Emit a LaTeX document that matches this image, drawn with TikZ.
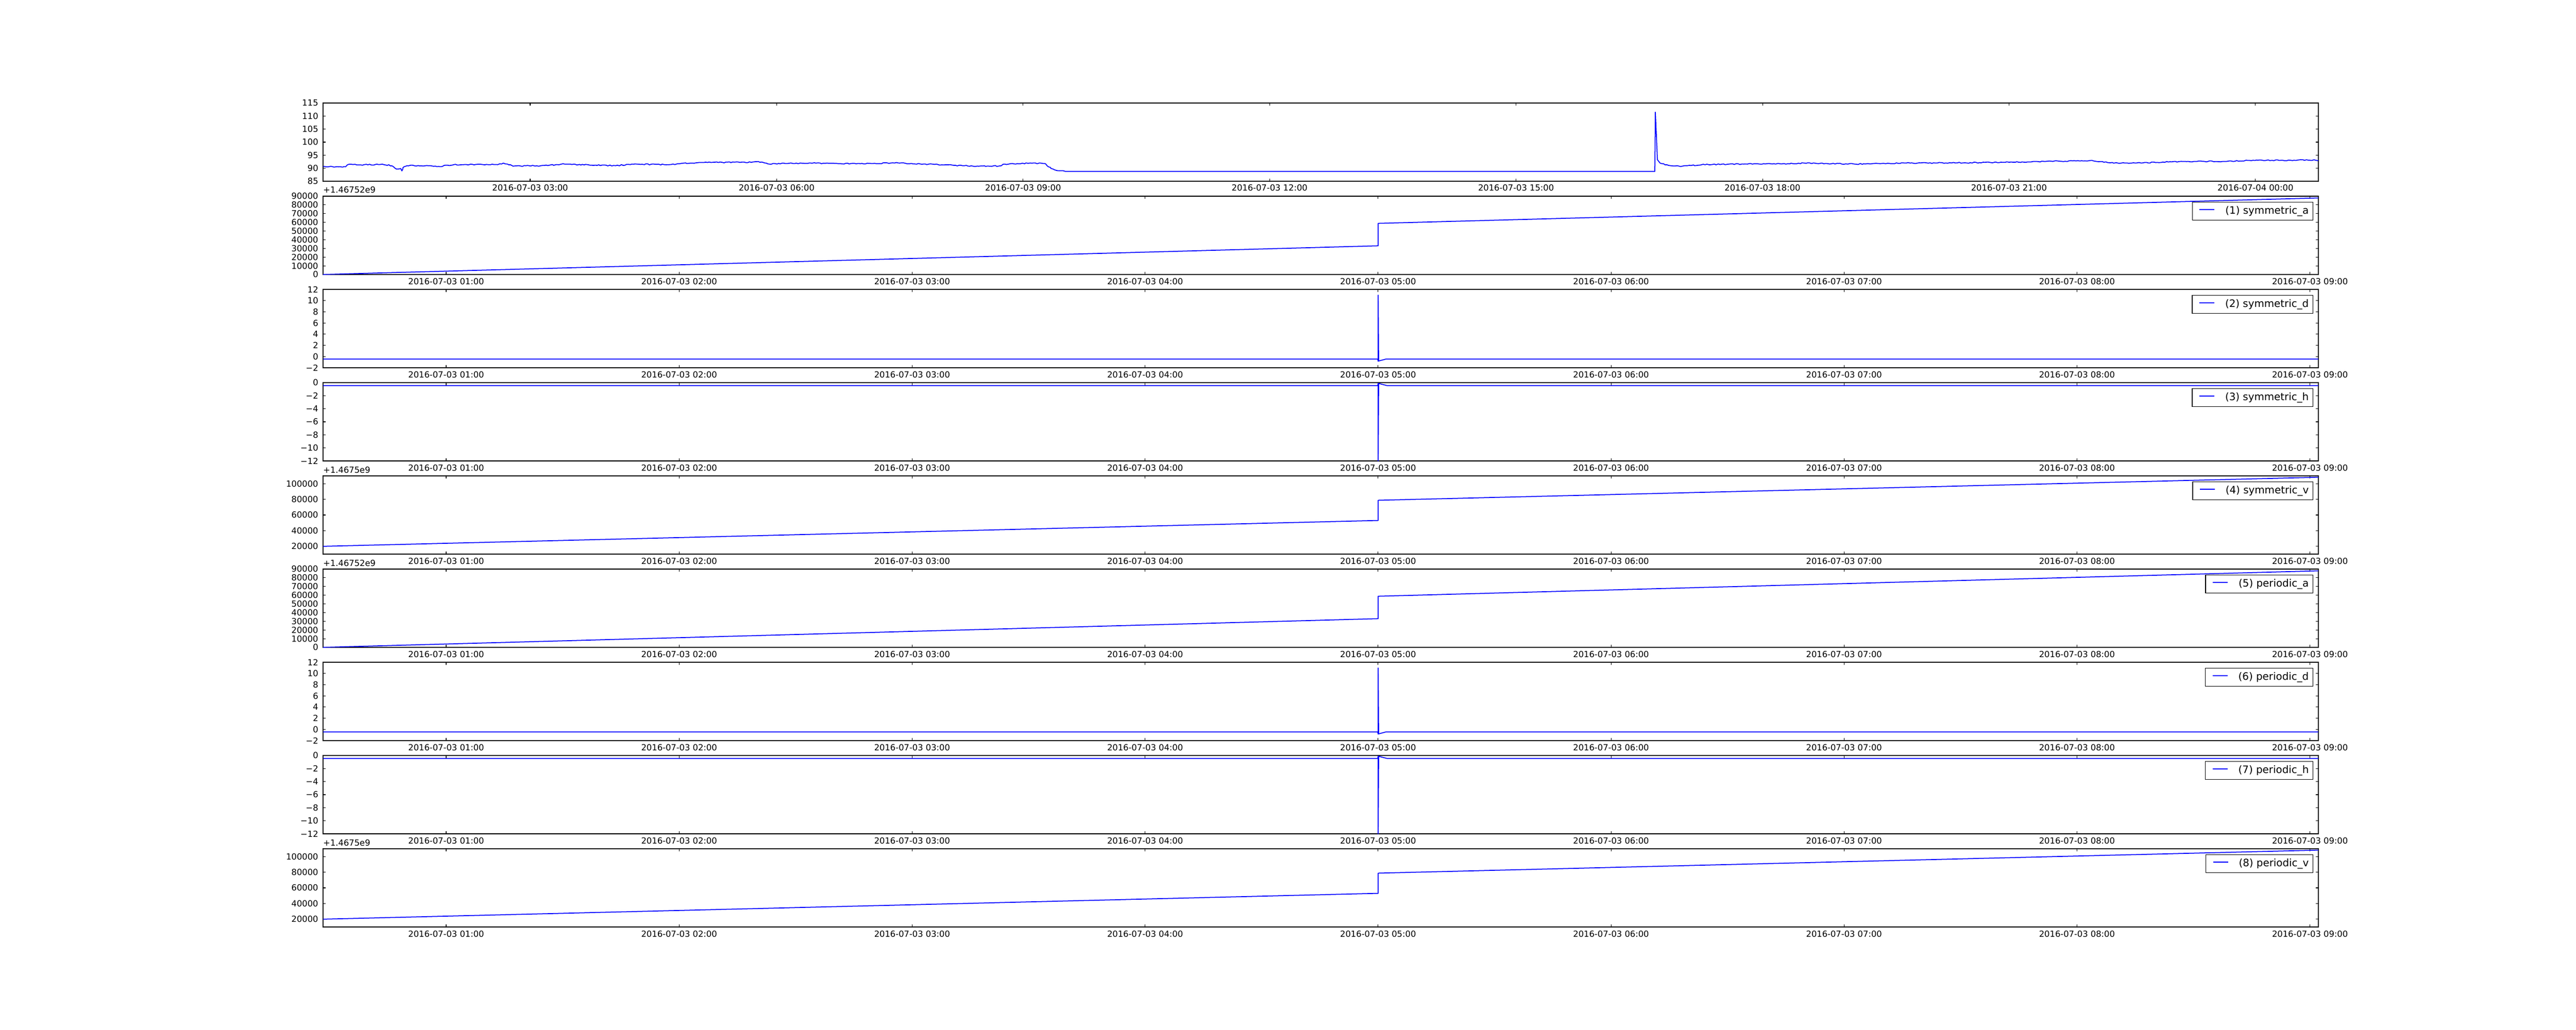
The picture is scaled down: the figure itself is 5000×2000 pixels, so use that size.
\documentclass[tikz,border=0pt]{standalone}
\usepackage{fontspec}
\setmainfont{DejaVu Sans}
\usetikzlibrary{calc, decorations.pathmorphing}
\definecolor{trace}{HTML}{0000FF}
\newcommand{\tickfont}{\fontsize{9.3}{11}\selectfont}
\newcommand{\legendfont}{\fontsize{11.3}{13}\selectfont}

\begin{document}
\begin{tikzpicture}[x=0.02cm, y=-0.02cm,
    frame/.style={black, line width=1pt},
    tickline/.style={black, line width=0.6pt},
    series/.style={trace, line width=1pt, line join=round},
    ticklabel/.style={font=\tickfont, inner sep=0pt},
    legendbox/.style={draw=black, line width=0.8pt, fill=white, font=\legendfont,
        inner xsep=0pt, inner ysep=0pt, minimum height=0.7cm, anchor=north east}]

% Canvas
\fill[white] (0,0) rectangle (5000,2000);
\useasboundingbox (0,0) rectangle (5000,2000);

% --- MACRO: Y TICK ---
% #1: y position (px)
% #2: label
% #3: node name
\newcommand{\yTick}[3]{
    \draw[tickline] (627,#1) -- ++(5,0);
    \draw[tickline] (4500,#1) -- ++(-5,0);
    \node[ticklabel, anchor=east] (#3) at (618,#1) {#2};
}

% --- MACRO: LEGEND ---
% #1: top edge of the panel
% #2: label text
% #3: node name
\newcommand{\drawLegend}[3]{
    \node[legendbox] (#3) at (4490,#1+11)
        {\hspace*{0.28cm}\textcolor{trace}{\rule[4.3pt]{0.58cm}{1pt}}\hspace*{0.42cm}#2\hspace*{0.16cm}};
}

% --- MACRO: DRAW LOWER PANEL ---
% #1: top edge (px)
% #2: kind (1=a, 2=d, 3=h, 4=v)
% #3: legend text
% #4: name prefix
\newcommand{\drawPanel}[4]{
    \pgfmathsetmacro{\pbot}{#1+152}
    % Frame
    \draw[frame] (627,#1) rectangle (4500,\pbot);

    % X ticks
    \foreach \h in {1,...,9} {
        \pgfmathsetmacro{\tx}{866+(\h-1)*452.2}
        \draw[tickline] (\tx,#1) -- ++(0,5);
        \draw[tickline] (\tx,\pbot) -- ++(0,-5);
        \node[ticklabel, anchor=base] (#4x\h) at (\tx,\pbot+19) {2016-07-03 0\h:00};
    }

    % --- a: ramp with step ---
    \ifnum #2=1
        \foreach \i in {0,...,9} {
            \pgfmathsetmacro{\ty}{\pbot-\i*152/9}
            \yTick{\ty}{\ifnum\i=0 0\else\i0000\fi}{#4y\i}
        }
        \node[ticklabel, anchor=base west] (#4off) at (627,#1-6) {+1.46752e9};
        \draw[series] (627,\pbot) -- (2675,\pbot-55.7)
            -- (2675,\pbot-99.3) -- (4500,\pbot-148.6);
    \fi

    % --- d: flat with upward spike ---
    \ifnum #2=2
        \foreach \i in {0,...,7} {
            \pgfmathsetmacro{\ty}{\pbot-\i*152/7}
            \pgfmathtruncatemacro{\val}{2*\i-2}
            \yTick{\ty}{\ifnum\val<0 −2\else\val\fi}{#4y\i}
        }
        \draw[series] (627,\pbot-16.8) -- (2674,\pbot-16.8) -- (2675,\pbot-12.5)
            -- (2675,#1+11) -- (2676,\pbot-13) -- (2690,\pbot-16.8) -- (4500,\pbot-16.8);
    \fi

    % --- h: flat with downward spike ---
    \ifnum #2=3
        \foreach \i in {0,...,6} {
            \pgfmathsetmacro{\ty}{#1+\i*152/6}
            \yTick{\ty}{\ifnum\i=0 0\else−\the\numexpr2*\i\relax\fi}{#4y\i}
        }
        \draw[series] (627,#1+5.7) -- (2674,#1+5.7) -- (2675,#1+1)
            -- (2675,\pbot) -- (2676,#1+1.5) -- (2692,#1+5.7) -- (4500,#1+5.7);
    \fi

    % --- v: ramp with step, other offset ---
    \ifnum #2=4
        \foreach \i in {1,...,5} {
            \pgfmathsetmacro{\ty}{\pbot-(2*\i-1)*15.2}
            \pgfmathtruncatemacro{\lab}{2*\i}
            \yTick{\ty}{\lab0000}{#4y\i}
        }
        \node[ticklabel, anchor=base west] (#4off) at (627,#1-6) {+1.4675e9};
        \draw[series] (627,\pbot-15.2) -- (2675,\pbot-65.4)
            -- (2675,\pbot-104.6) -- (4500,\pbot-149.3);
    \fi

    % Legend
    \drawLegend{#1}{#3}{#4leg}
}

% --- TOP PANEL ---
\draw[frame] (627,200) rectangle (4500,352);
\foreach \k/\lab in {0/2016-07-03 03:00, 1/2016-07-03 06:00, 2/2016-07-03 09:00,
        3/2016-07-03 12:00, 4/2016-07-03 15:00, 5/2016-07-03 18:00,
        6/2016-07-03 21:00, 7/2016-07-04 00:00} {
    \pgfmathsetmacro{\tx}{1029+\k*478.4}
    \draw[tickline] (\tx,200) -- ++(0,5);
    \draw[tickline] (\tx,352) -- ++(0,-5);
    \node[ticklabel, anchor=base] (topx\k) at (\tx,371) {\lab};
}
\foreach \i in {0,...,6} {
    \pgfmathsetmacro{\ty}{352-\i*152/6}
    \pgfmathtruncatemacro{\val}{85+5*\i}
    \yTick{\ty}{\val}{topy\i}
}

% Data (y in values)
\pgfmathsetseed{7}
\begin{scope}[shift={(0,782.67)}, y=0.101333cm]
    \draw[series, decorate, decoration={random steps, segment length=2pt, amplitude=0.55pt}]
        plot coordinates {(627,90.66) (650,90.5) (671,90.6) (675,91.4) (700,91.3)
        (744,91.45) (760,91.0) (767,90.0) (773,89.7) (778,89.9) (780,89.0) (782,90.2)
        (790,91.0) (835,91.0) (851,90.7) (881,91.4) (966,91.4) (977,92.0) (985,91.6)
        (996,90.8) (1050,91.0) (1096,91.6) (1134,91.3) (1195,91.0) (1226,91.6)
        (1295,91.4) (1356,92.2) (1478,92.4) (1490,91.7) (1570,92.0) (1631,91.8)
        (1700,91.8) (1733,92.1) (1833,91.3) (1900,90.8) (1940,90.9) (1950,91.6)
        (2010,92.0) (2030,91.6) (2040,89.9) (2050,89.2) (2068,88.8)};
    \draw[series] (2068,88.8) -- (3212,88.8) -- (3213,111.5) -- (3217,93.3) -- (3222,92.0);
    \draw[series, decorate, decoration={random steps, segment length=2pt, amplitude=0.55pt}]
        plot coordinates {(3222,92.0) (3242,91.0) (3265,90.8) (3303,91.4) (3356,91.6)
        (3456,91.7) (3502,92.0) (3600,91.6) (3700,92.0) (3800,92.1) (3900,92.3)
        (4056,92.95) (4096,92.1) (4145,92.0) (4212,92.5) (4324,92.7) (4382,93.1)
        (4500,93.1)};
\end{scope}

% --- LOWER PANELS ---
\drawPanel{381}{1}{(1) symmetric\_a}{sa}
\drawPanel{562}{2}{(2) symmetric\_d}{sd}
\drawPanel{743}{3}{(3) symmetric\_h}{sh}
\drawPanel{924}{4}{(4) symmetric\_v}{sv}
\drawPanel{1105}{1}{(5) periodic\_a}{pa}
\drawPanel{1286}{2}{(6) periodic\_d}{pd}
\drawPanel{1467}{3}{(7) periodic\_h}{ph}
\drawPanel{1648}{4}{(8) periodic\_v}{pv}

\end{tikzpicture}
\end{document}
